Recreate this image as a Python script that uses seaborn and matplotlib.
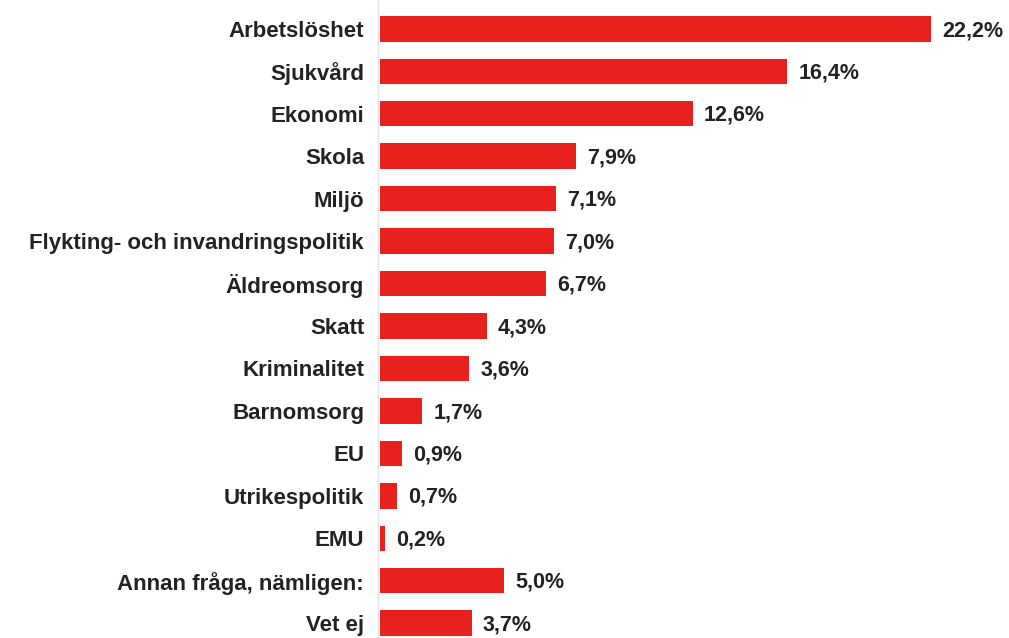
import matplotlib
matplotlib.use("Agg")
import matplotlib.pyplot as plt
import seaborn as sns
import pandas as pd

categories = ["Arbetslöshet", "Sjukvård", "Ekonomi", "Skola", "Miljö",
              "Flykting- och invandringspolitik", "Äldreomsorg", "Skatt",
              "Kriminalitet", "Barnomsorg", "EU", "Utrikespolitik", "EMU",
              "Annan fråga, nämligen:", "Vet ej"]
values = [22.2, 16.4, 12.6, 7.9, 7.1, 7.0, 6.7, 4.3, 3.6, 1.7, 0.9, 0.7, 0.2, 5.0, 3.7]
value_labels = ["22,2%", "16,4%", "12,6%", "7,9%", "7,1%", "7,0%", "6,7%", "4,3%",
                "3,6%", "1,7%", "0,9%", "0,7%", "0,2%", "5,0%", "3,7%"]

sns.set_theme(style="white")
plt.rcParams['font.family'] = ['Liberation Sans', 'DejaVu Sans']
plt.rcParams['font.weight'] = 'bold'

df = pd.DataFrame({"cat": categories, "val": values})

fig = plt.figure(figsize=(10.09, 6.38), dpi=100)
ax = fig.add_axes([380/1009, 0.0, 1 - 380/1009 - 0.005, 1.0])
sns.barplot(data=df, x="val", y="cat", color="#E8201E", saturation=1,
            width=0.6, ax=ax, edgecolor="none")

ax.set_xlim(0, 25.13)
ax.set_ylim(14.35, -0.68)
for i, (v, lab) in enumerate(zip(values, value_labels)):
    ax.text(v + 0.45, i + 0.04, lab, va="center", ha="left", fontsize=15.5,
            fontweight="bold", color="#222222")

ax.set_xlabel("")
ax.set_ylabel("")
ax.set_xticks([])
ax.tick_params(axis="y", length=0, pad=10, labelsize=16, labelcolor="#222222")
for s in ["top", "right", "bottom"]:
    ax.spines[s].set_visible(False)
ax.spines["left"].set_color("#dde4ea")
ax.spines["left"].set_linewidth(1)
ax.spines["left"].set_position(("data", -0.08))

fig.canvas.draw()
for t in ax.get_yticklabels():
    t.set_fontweight("bold")

fig.savefig("out.png", dpi=100)
